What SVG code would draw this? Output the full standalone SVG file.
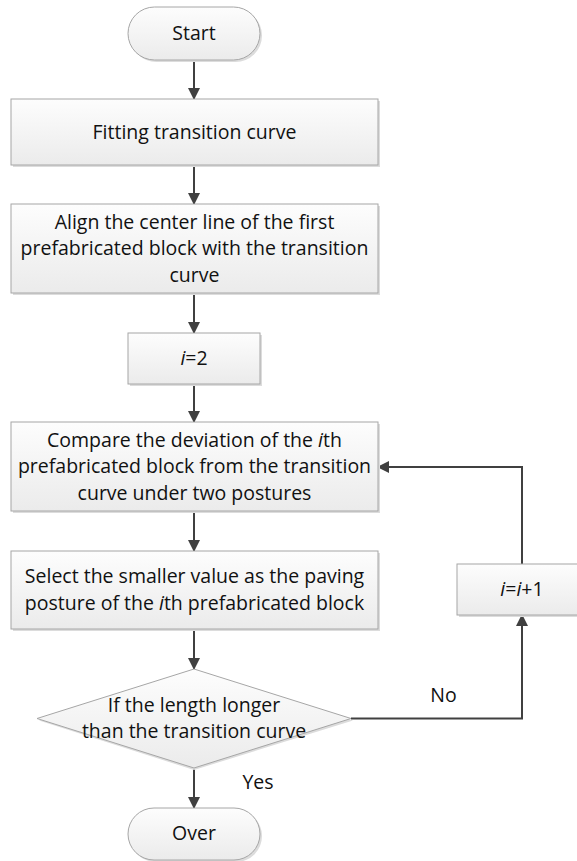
<svg xmlns="http://www.w3.org/2000/svg" width="577" height="861" viewBox="0 0 577 861">
  <style>
    .box { fill: url(#g); stroke: #a6a6a6; stroke-width: 1; }
    .shadow { fill: #dcdcdc; stroke: none; }
    .t { font-family: "Open Sans", "Liberation Sans", Arial, sans-serif; font-size: 19.5px; fill: #111; text-anchor: middle; }
    .i { font-style: italic; }
    .c { fill: none; stroke: #404040; stroke-width: 2; }
  </style>
  <defs>
    <linearGradient id="g" x1="0" y1="0" x2="0" y2="1">
      <stop offset="0" stop-color="#fdfdfd"/>
      <stop offset="1" stop-color="#ebebeb"/>
    </linearGradient>
    <marker id="ah" viewBox="0 0 12 12" markerWidth="12" markerHeight="12" refX="11" refY="6" orient="auto" markerUnits="userSpaceOnUse">
      <path d="M0,0 L12,6 L0,12 z" fill="#404040"/>
    </marker>
  </defs>

  <g id="connectors">
    <path class="c" d="M194,60 V99" marker-end="url(#ah)"/>
    <path class="c" d="M194,165 V204" marker-end="url(#ah)"/>
    <path class="c" d="M194,293 V333" marker-end="url(#ah)"/>
    <path class="c" d="M194,384 V422" marker-end="url(#ah)"/>
    <path class="c" d="M194,511 V551" marker-end="url(#ah)"/>
    <path class="c" d="M194,629 V669" marker-end="url(#ah)"/>
    <path class="c" d="M194,768 V808" marker-end="url(#ah)"/>
    <path class="c" d="M351,718.5 H522 V615" marker-end="url(#ah)"/>
    <path class="c" d="M522,564 V467 H378" marker-end="url(#ah)"/>
    <text class="t" x="443.5" y="702">No</text>
    <text class="t" x="258" y="789">Yes</text>
  </g>

  <g id="start">
    <rect class="shadow" x="130" y="9" width="132" height="53" rx="26.5"/>
    <rect class="box" x="128" y="7" width="132" height="53" rx="26.5"/>
    <text class="t" x="194" y="40">Start</text>
  </g>

  <g id="fitting">
    <rect class="shadow" x="13" y="101" width="367" height="66"/>
    <rect class="box" x="11" y="99" width="367" height="66"/>
    <text class="t" x="194.5" y="138.5">Fitting transition curve</text>
  </g>

  <g id="align">
    <rect class="shadow" x="13" y="206" width="367" height="89"/>
    <rect class="box" x="11" y="204" width="367" height="89"/>
    <text class="t" x="194.5" y="228.5">Align the center line of the first</text>
    <text class="t" x="194.5" y="255">prefabricated block with the transition</text>
    <text class="t" x="194.5" y="281.5">curve</text>
  </g>

  <g id="init">
    <rect class="shadow" x="130" y="335" width="132" height="51"/>
    <rect class="box" x="128" y="333" width="132" height="51"/>
    <text class="t" x="194" y="365"><tspan class="i">i</tspan>=2</text>
  </g>

  <g id="compare">
    <rect class="shadow" x="13" y="424" width="367" height="89"/>
    <rect class="box" x="11" y="422" width="367" height="89"/>
    <text class="t" x="194.5" y="446.5">Compare the deviation of the <tspan class="i">i</tspan>th</text>
    <text class="t" x="194.5" y="473">prefabricated block from the transition</text>
    <text class="t" x="194.5" y="499.5">curve under two postures</text>
  </g>

  <g id="select">
    <rect class="shadow" x="13" y="553" width="367" height="78"/>
    <rect class="box" x="11" y="551" width="367" height="78"/>
    <text class="t" x="194.5" y="583">Select the smaller value as the paving</text>
    <text class="t" x="194.5" y="609.5">posture of the <tspan class="i">i</tspan>th prefabricated block</text>
  </g>

  <g id="increment">
    <rect class="shadow" x="459" y="566" width="130" height="51"/>
    <rect class="box" x="457" y="564" width="130" height="51"/>
    <text class="t" x="522" y="596"><tspan class="i">i</tspan>=<tspan class="i">i</tspan>+1</text>
  </g>

  <g id="decision">
    <polygon class="shadow" points="194,671 353,720.5 194,770 39,720.5"/>
    <polygon class="box" points="194,669 351,718.5 194,768 37,718.5"/>
    <text class="t" x="194" y="712">If the length longer</text>
    <text class="t" x="194" y="738">than the transition curve</text>
  </g>

  <g id="over">
    <rect class="shadow" x="130" y="810" width="132" height="52" rx="26"/>
    <rect class="box" x="128" y="808" width="132" height="52" rx="26"/>
    <text class="t" x="194" y="840">Over</text>
  </g>
</svg>
